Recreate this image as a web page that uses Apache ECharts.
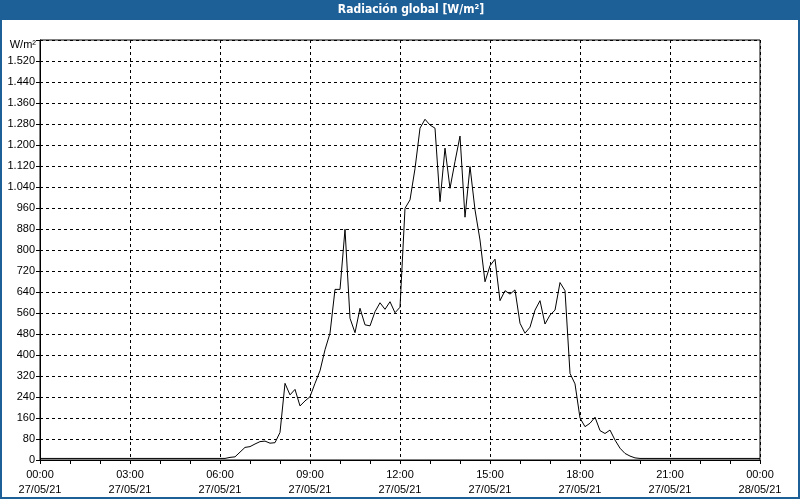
<!DOCTYPE html>
<html>
<head>
<meta charset="utf-8">
<script src="https://cdn.jsdelivr.net/npm/echarts@6/dist/echarts.min.js"></script>
<style>
html,body{margin:0;padding:0;background:#fff;}
#c{width:800px;height:500px;}
</style>
</head>
<body>
<div id="c"></div>
<script>
// Sample interval: 10 minutes, 00:00 27/05/21 to 00:00 28/05/21
const sampleMinutes = 10;
const radiation = [
  6,6,6,6,6,6,6,6,6,6, 6,6,6,6,6,6,6,6,6,6,
  6,6,6,6,6,6,6,6,6,6, 6,6,6,6,6,6,6,6,10,12,
  30,48,51,61,70,72,64,66,105,292,
  248,269,206,225,241,292,340,420,483,650,
  650,879,540,485,578,515,511,565,599,574,
  603,561,582,959,991,1110,1264,1298,1276,1264,
  984,1188,1035,1137,1234,925,1118,953,838,679,
  740,765,607,645,632,648,521,483,506,571,
  607,518,552,571,676,645,330,290,160,127,
  140,163,112,101,114,76,45,25,15,8,
  6,6,6,6,6,6,6,6,6,6, 6,6,6,6,6,6,6,6,6,6,
  6,6,6,6,6
];
const xTickTimes = ['00:00','03:00','06:00','09:00','12:00','15:00','18:00','21:00','00:00'];
const xTickDates = ['27/05/21','27/05/21','27/05/21','27/05/21','27/05/21','27/05/21','27/05/21','27/05/21','28/05/21'];
const titleText = 'Radiación global [W/m²]';
const unitText = 'W/m²';

const seriesData = radiation.map((v, i) => [i * sampleMinutes, v]);
const frameBlue = '#1d5f97';
const font = 'Liberation Sans';

const chart = echarts.init(document.getElementById('c'), null, {renderer: 'canvas'});
chart.setOption({
  backgroundColor: '#ffffff',
  animation: false,
  graphic: [
    {type: 'rect', z: -10, shape: {x: 0, y: 0, width: 800, height: 20}, style: {fill: frameBlue}},
    {type: 'rect', z: 100, shape: {x: 1, y: 1, width: 798, height: 497}, style: {fill: 'none', stroke: frameBlue, lineWidth: 2}},
    {type: 'text', z: 101, x: 411, y: 10, style: {text: titleText, fill: '#ffffff', font: 'bold 12px "DejaVu Sans Condensed", "Liberation Sans", sans-serif', align: 'center', verticalAlign: 'middle'}}
  ],
  grid: {left: 40, right: 40, top: 40, bottom: 40, show: true, borderColor: '#000', borderWidth: 1, backgroundColor: '#fff'},
  xAxis: {
    type: 'value', min: 0, max: 1440, interval: 180,
    axisLine: {show: true, lineStyle: {color: '#000', width: 1}},
    axisTick: {show: true, length: 4, lineStyle: {color: '#000'}},
    minorTick: {show: true, splitNumber: 3, length: 4, lineStyle: {color: '#000'}},
    splitLine: {show: true, lineStyle: {color: '#000', type: [3, 3], width: 1}},
    axisLabel: {
      color: '#000', fontFamily: font, fontSize: 11, margin: 8, lineHeight: 14.5,
      formatter: v => { const k = Math.round(v / 180); return xTickTimes[k] + '\n' + xTickDates[k]; }
    }
  },
  yAxis: {
    type: 'value', min: 0, max: 1600, interval: 80,
    name: unitText, nameLocation: 'end', nameGap: -5,
    nameTextStyle: {color: '#000', fontFamily: font, fontSize: 11, align: 'right', verticalAlign: 'middle', padding: [0, 4, 0, 0]},
    axisLine: {show: true, lineStyle: {color: '#000'}},
    axisTick: {show: true, length: 4, lineStyle: {color: '#000'}},
    splitLine: {show: true, lineStyle: {color: '#000', type: [3, 3], width: 1}},
    axisLabel: {
      color: '#000', fontFamily: font, fontSize: 11, margin: 5,
      formatter: v => v >= 1600 ? '' : (v >= 1000 ? Math.floor(v / 1000) + '.' + String(v % 1000).padStart(3, '0') : String(v))
    }
  },
  series: [{
    type: 'line', data: seriesData, showSymbol: false, symbol: 'none',
    lineStyle: {color: '#000', width: 1}, itemStyle: {color: '#000'}
  }]
});
</script>
</body>
</html>
